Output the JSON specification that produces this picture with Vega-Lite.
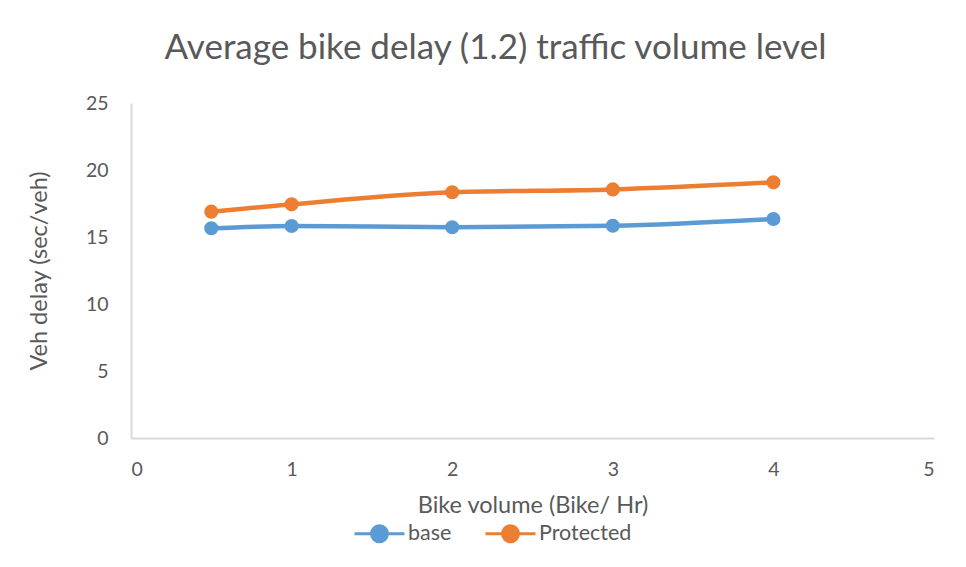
{
  "$schema": "https://vega.github.io/schema/vega-lite/v6.json",
  "width": 803,
  "height": 335,
  "autosize": "none",
  "padding": {"left": 131, "top": 103, "right": 32, "bottom": 129},
  "background": "white",
  "title": {
    "text": "Average bike delay (1.2) traffic volume level",
    "fontSize": 35,
    "font": "Lato",
    "fontWeight": "normal",
    "color": "#595959",
    "anchor": "middle",
    "frame": "group",
    "dx": -37,
    "offset": 27
  },
  "data": {
    "values": [
      {"bike": 0.5, "delay": 15.65, "series": "base"},
      {"bike": 1, "delay": 15.82, "series": "base"},
      {"bike": 2, "delay": 15.73, "series": "base"},
      {"bike": 3, "delay": 15.84, "series": "base"},
      {"bike": 4, "delay": 16.34, "series": "base"},
      {"bike": 0.5, "delay": 16.89, "series": "Protected"},
      {"bike": 1, "delay": 17.44, "series": "Protected"},
      {"bike": 2, "delay": 18.34, "series": "Protected"},
      {"bike": 3, "delay": 18.55, "series": "Protected"},
      {"bike": 4, "delay": 19.08, "series": "Protected"}
    ]
  },
  "encoding": {
    "x": {
      "field": "bike",
      "type": "quantitative",
      "scale": {"domain": [0, 5], "nice": false},
      "axis": {
        "title": "Bike volume (Bike/ Hr)",
        "values": [0, 1, 2, 3, 4, 5],
        "grid": false,
        "ticks": false,
        "labelPadding": 22,
        "titlePadding": 15
      }
    },
    "y": {
      "field": "delay",
      "type": "quantitative",
      "scale": {"domain": [0, 25], "nice": false},
      "axis": {
        "title": "Veh delay (sec/veh)",
        "values": [0, 5, 10, 15, 20, 25],
        "grid": false,
        "ticks": false,
        "labelPadding": 23,
        "titlePadding": 34
      }
    },
    "color": {
      "field": "series",
      "type": "nominal",
      "scale": {"domain": ["base", "Protected"], "range": ["#5B9BD5", "#ED7D31"]},
      "legend": {
        "title": null,
        "orient": "none",
        "legendX": 222,
        "legendY": 404,
        "direction": "horizontal",
        "symbolType": "M -1 0 L 1 0 M -0.32 0 A 0.32 0.32 0 1 0 0.32 0 A 0.32 0.32 0 1 0 -0.32 0 Z",
        "symbolSize": 2500,
        "symbolStrokeWidth": 3,
        "symbolOpacity": 1,
        "labelFontSize": 21.5,
        "labelFont": "Lato",
        "labelColor": "#595959",
        "labelOffset": 2,
        "columnPadding": 27
      }
    }
  },
  "layer": [
    {"mark": {"type": "line", "interpolate": "monotone", "strokeWidth": 4.5}},
    {"mark": {"type": "point", "filled": true, "size": 200, "opacity": 1}}
  ],
  "config": {
    "view": {"stroke": null},
    "axis": {
      "domainColor": "#d9d9d9",
      "domainWidth": 2,
      "labelFont": "Lato",
      "labelFontSize": 19.5,
      "labelColor": "#595959",
      "titleFont": "Lato",
      "titleFontSize": 23.5,
      "titleFontWeight": "normal",
      "titleColor": "#595959"
    }
  }
}
